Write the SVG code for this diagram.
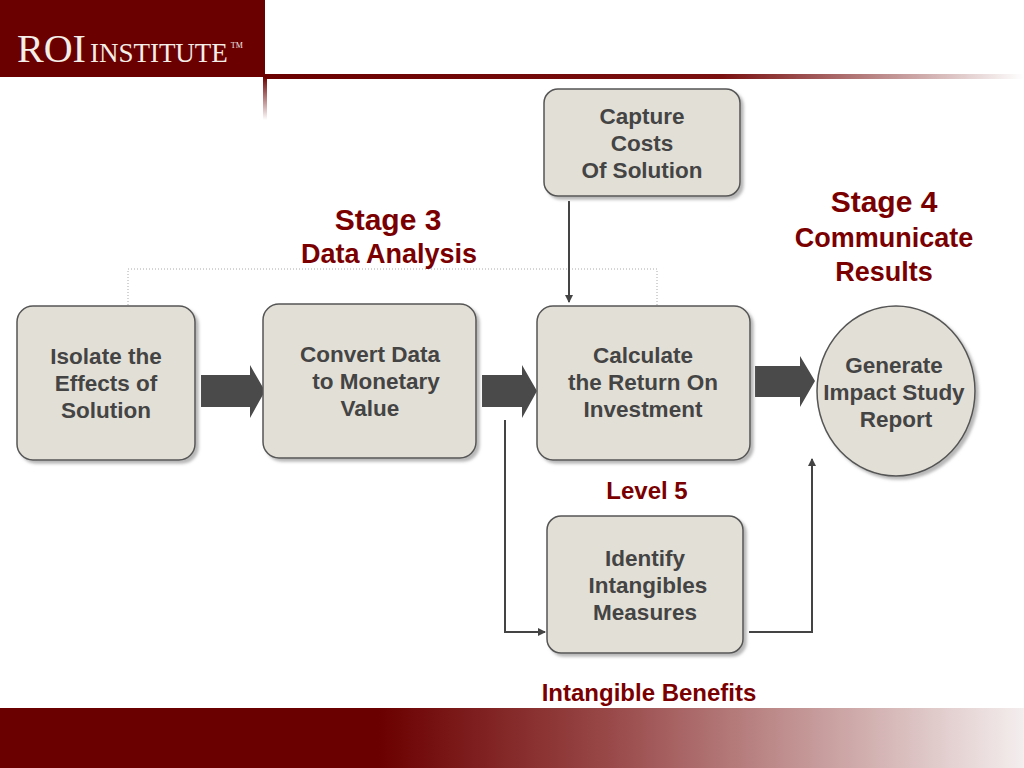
<svg xmlns="http://www.w3.org/2000/svg" width="1024" height="768" viewBox="0 0 1024 768">
<defs>
<linearGradient id="hl" x1="0" x2="1" y1="0" y2="0"><stop offset="0" stop-color="#6b0000"/><stop offset="0.6" stop-color="#7a1010"/><stop offset="1" stop-color="#6b0000" stop-opacity="0"/></linearGradient>
<linearGradient id="vl" x1="0" x2="0" y1="0" y2="1"><stop offset="0" stop-color="#6b0000"/><stop offset="1" stop-color="#6b0000" stop-opacity="0"/></linearGradient>
<linearGradient id="bb" x1="0" x2="1" y1="0" y2="0"><stop offset="0" stop-color="#6b0000"/><stop offset="0.37" stop-color="#6b0000"/><stop offset="0.6" stop-color="#9a4a4a"/><stop offset="1" stop-color="#f4eeee"/></linearGradient>
<marker id="ah" markerWidth="8" markerHeight="8" refX="7" refY="4" orient="auto" markerUnits="userSpaceOnUse"><path d="M0,0 L8,4 L0,8 Z" fill="#444"/></marker>
<filter id="sh" x="-10%" y="-10%" width="130%" height="130%"><feDropShadow dx="3" dy="3" stdDeviation="1.5" flood-color="#999" flood-opacity="0.7"/></filter>
</defs>
<style>
.box{fill:#e2dfd6;stroke:#555;stroke-width:1.5;filter:url(#sh)}
.t{font-family:"Liberation Sans",Arial,sans-serif;font-weight:bold;font-size:22.5px;fill:#444;text-anchor:middle}
.r{font-family:"Liberation Sans",Arial,sans-serif;font-weight:bold;fill:#7a0000;text-anchor:middle}
.ln{stroke:#444;stroke-width:2;fill:none}
.blk{fill:#4a4a4a}
</style>
<rect x="0" y="0" width="1024" height="768" fill="#fff"/>
<rect x="0" y="0" width="265" height="77" fill="#6b0000"/>
<rect x="265" y="74" width="759" height="5" fill="url(#hl)"/>
<rect x="263" y="77" width="4" height="43" fill="url(#vl)"/>
<text x="17" y="62" font-family="Liberation Serif,serif" font-size="40" fill="#f4eee8">ROI<tspan font-size="27" dx="4">INSTITUTE</tspan><tspan font-size="8" dy="-14" dx="3">TM</tspan></text>
<rect x="0" y="708" width="1024" height="60" fill="url(#bb)"/>

<g id="connectors">
<path d="M128,305 V269 H657 V305" fill="none" stroke="#aaa" stroke-width="1" stroke-dasharray="1,2"/>
<path class="blk" d="M201,375 H250 V365 L265,391 L250,418 V407 H201 Z"/>
<path class="blk" d="M482,375 H522 V365 L537,391 L522,418 V407 H482 Z"/>
<path class="blk" d="M755,366 H800 V356 L815,381 L800,407 V397 H755 Z"/>
<line class="ln" x1="569" y1="201" x2="569" y2="302" marker-end="url(#ah)"/>
<path class="ln" d="M505,420 V632 H545" marker-end="url(#ah)"/>
<path class="ln" d="M749,632 H812 V459" marker-end="url(#ah)"/>
</g>

<g id="isolate"><rect class="box" x="17" y="306" width="178" height="154" rx="16"/>
<text class="t" x="106" y="364">Isolate the</text><text class="t" x="106" y="391">Effects of</text><text class="t" x="106" y="418">Solution</text></g>
<g id="convert"><rect class="box" x="263" y="304" width="213" height="154" rx="16"/>
<text class="t" x="370" y="362">Convert Data</text><text class="t" x="376" y="389">to Monetary</text><text class="t" x="370" y="416">Value</text></g>
<g id="calculate"><rect class="box" x="537" y="306" width="213" height="154" rx="16"/>
<text class="t" x="643" y="363">Calculate</text><text class="t" x="643" y="390">the Return On</text><text class="t" x="643" y="417">Investment</text></g>
<g id="capture"><rect class="box" x="544" y="89" width="196" height="107" rx="14"/>
<text class="t" x="642" y="124">Capture</text><text class="t" x="642" y="151">Costs</text><text class="t" x="642" y="178">Of Solution</text></g>
<g id="identify"><rect class="box" x="547" y="516" width="196" height="137" rx="14"/>
<text class="t" x="645" y="566">Identify</text><text class="t" x="648" y="593">Intangibles</text><text class="t" x="645" y="620">Measures</text></g>
<g id="generate"><ellipse class="box" cx="896" cy="391" rx="79" ry="85"/>
<text class="t" x="894" y="373">Generate</text><text class="t" x="894" y="400">Impact Study</text><text class="t" x="896" y="427">Report</text></g>

<g id="labels">
<text class="r" x="388" y="230" font-size="30">Stage 3</text>
<text class="r" x="389" y="263" font-size="27">Data Analysis</text>
<text class="r" x="884" y="212" font-size="30">Stage 4</text>
<text class="r" x="884" y="247" font-size="27">Communicate</text>
<text class="r" x="884" y="281" font-size="27">Results</text>
<text class="r" x="647" y="499" font-size="24">Level 5</text>
<text class="r" x="649" y="701" font-size="24">Intangible Benefits</text>
</g>
</svg>
